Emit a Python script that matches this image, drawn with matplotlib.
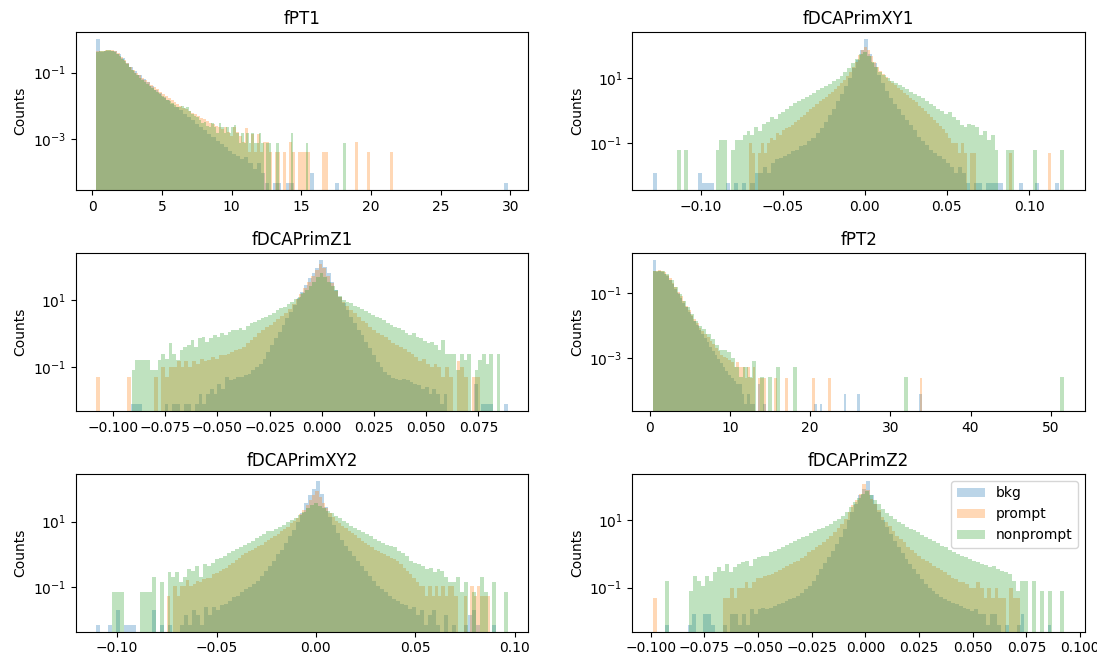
import numpy as np
import matplotlib
matplotlib.use("Agg")
import matplotlib.pyplot as plt
from matplotlib.ticker import NullLocator

# Per-bin histogram heights (density) as log10 values.
# None = empty bin. Every series has 100 bins over its own (lo, hi) range.
series_labels = ["bkg", "prompt", "nonprompt"]
titles = ["fPT1", "fDCAPrimXY1", "fDCAPrimZ1", "fPT2", "fDCAPrimXY2", "fDCAPrimZ2"]
pt_yticks = [1e-3, 1e-1]
dca_yticks = [1e-1, 1e1]
N = None

# ---- fPT1 ----
pt1_ranges = [(0.3, 29.8), (0.3, 21.6), (0.3, 18.2)]
pt1_bkg = [0.0, -0.37, -0.35, -0.34, -0.36, -0.45, -0.57, -0.70, -0.83, -0.96,
           -1.08, -1.19, -1.30, -1.41, -1.52, -1.63, -1.74, -1.84, -1.94, -2.04,
           -2.14, -2.24, -2.34, -2.44, -2.54, -2.64, -2.74, -2.84, -2.95, -3.05,
           -3.15, -3.25, -3.35, -3.45, -3.5, -3.6, -3.55, -3.73, -3.9, -3.73,
           -4.02, -4.32, N, -4.32, -4.32, N, -4.32, -4.32, N, N,
           N, N, -4.02, N, N, N, N, N, -4.32, N,
           N, N, N, N, N, N, N, N, N, N,
           N, N, N, N, N, N, N, N, N, N,
           N, N, N, N, N, N, N, N, N, N,
           N, N, N, N, N, N, N, N, N, -4.32]
pt1_prompt = [-0.36, -0.35, -0.34, -0.32, -0.31, -0.31, -0.34, -0.42, -0.52, -0.62,
              -0.72, -0.82, -0.92, -1.00, -1.08, -1.16, -1.23, -1.30, -1.37, -1.44,
              -1.51, -1.58, -1.65, -1.72, -1.78, -1.84, -1.90, -1.96, -2.01, -2.06,
              -2.11, -2.16, -2.21, -2.26, -2.31, -2.36, -2.41, -2.46, -2.51, -2.56,
              -2.60, -2.65, -2.70, -2.63, -2.78, -2.90, -2.63, -2.78, -2.90, -3.08,
              -2.67, -3.38, -2.85, -3.38, -2.85, -3.38, -3.08, -3.08, -3.38, N,
              -3.38, -3.38, N, -3.38, N, -3.08, -3.38, N, -3.38, -3.38,
              -3.38, -3.38, N, N, N, N, -3.38, -3.38, N, N,
              N, N, N, N, N, N, N, -3.08, N, N,
              N, -3.38, N, N, N, N, N, N, N, -3.38]
pt1_nonprompt = [-0.37, -0.36, -0.35, -0.34, -0.33, -0.33, -0.34, -0.37, -0.43, -0.50,
                 -0.58, -0.66, -0.75, -0.84, -0.93, -1.01, -1.08, -1.15, -1.22, -1.28,
                 -1.34, -1.40, -1.46, -1.52, -1.58, -1.64, -1.70, -1.76, -1.82, -1.87,
                 -1.93, -1.98, -2.03, -2.05, -2.02, -2.08, -2.03, -2.15, -2.25, -2.30,
                 -2.35, -2.43, -2.53, -2.50, -2.60, -2.65, -2.53, -2.65, -2.83, -2.53,
                 -2.65, -2.83, -2.65, -2.83, -2.65, -2.58, -2.83, -3.13, -2.83, -3.13,
                 -2.83, -3.13, -2.83, -3.13, -3.13, -2.83, -3.13, N, -3.13, -3.13,
                 N, N, -3.13, N, N, N, N, N, -2.83, N,
                 N, N, N, N, -3.13, N, N, N, N, N,
                 N, N, N, N, N, N, N, N, N, -3.13]

# ---- fDCAPrimXY1 ----
xy1_ranges = [(-0.129, 0.1185), (-0.0705, 0.1135), (-0.1145, 0.1215)]
xy1_bkg = [-1.92, N, N, N, N, N, N, N, N, N,
           N, -1.92, -2.22, -2.22, -2.22, N, N, N, -2.22, N,
           -2.22, N, -2.22, N, -2.22, -1.92, -1.92, -1.75, -1.92, -1.6,
           -1.5, -1.45, -1.4, -1.35, -1.25, -1.2, -1.1, -1.05, -0.95, -0.85,
           -0.7, -0.55, -0.35, -0.15, 0.05, 0.3, 0.5, 0.75, 1.0, 1.3,
           1.55, 1.85, 2.19, 1.75, 1.45, 1.1, 0.85, 0.6, 0.4, 0.2,
           0.05, -0.15, -0.3, -0.45, -0.6, -0.8, -0.95, -1.05, -1.2, -1.3,
           -1.4, -1.5, -1.6, -1.75, -1.92, -1.75, -1.92, -2.22, N, -2.22,
           -2.22, N, -2.22, -2.22, -2.22, -2.22, N, N, N, N,
           -2.22, N, N, N, -2.22, N, N, N, N, -2.22]
xy1_prompt = [-1.0, -1.31, N, -1.31, -1.0, -1.31, -1.0, -0.83, -0.9, -0.7,
              -0.75, -0.6, -0.55, -0.5, -0.45, -0.35, -0.3, -0.2, -0.15, -0.05,
              0.05, 0.12, 0.2, 0.28, 0.35, 0.42, 0.5, 0.58, 0.66, 0.75,
              0.85, 0.95, 1.05, 1.2, 1.35, 1.5, 1.7, 1.85, 1.96, 1.85,
              1.68, 1.5, 1.35, 1.22, 1.12, 1.02, 0.92, 0.85, 0.78, 0.7,
              0.62, 0.55, 0.47, 0.4, 0.32, 0.25, 0.15, 0.08, 0.0, -0.1,
              -0.2, -0.28, -0.38, -0.48, -0.58, -0.7, -0.83, -1.0, -1.0, -1.31,
              -1.0, -1.31, N, -1.31, -1.31, N, N, N, N, N,
              N, N, N, N, N, N, -1.31, N, N, N,
              N, N, N, N, N, N, N, N, N, -1.31]
xy1_nonprompt = [-1.22, N, -1.22, N, N, N, N, N, N, N,
                 -1.22, -0.92, -0.92, N, -1.22, -0.92, -0.92, -0.74, -0.62, -0.74,
                 -0.52, -0.62, -0.42, -0.35, -0.2, -0.25, -0.1, -0.05, 0.05, 0.15,
                 0.22, 0.3, 0.35, 0.42, 0.48, 0.55, 0.62, 0.7, 0.76, 0.82,
                 0.9, 0.98, 1.07, 1.17, 1.3, 1.45, 1.6, 1.75, 1.79, 1.68,
                 1.5, 1.35, 1.2, 1.08, 1.0, 0.92, 0.85, 0.78, 0.72, 0.65,
                 0.58, 0.52, 0.45, 0.38, 0.3, 0.2, 0.15, 0.05, 0.0, -0.1,
                 -0.05, -0.2, -0.3, -0.45, -0.52, -0.4, -0.45, -0.52, -0.74, -0.62,
                 -0.92, -0.74, -1.22, N, N, -1.22, -1.22, N, N, N,
                 N, N, -1.22, N, N, N, N, N, N, -1.22]

# ---- fDCAPrimZ1 ----
z1_ranges = [(-0.0915, 0.089), (-0.108, 0.0755), (-0.091, 0.0855)]
z1_bkg = [-2.1, -2.1, -2.1, N, N, N, N, N, N, -2.1,
          N, -2.1, -2.1, N, -2.1, -2.1, N, -2.1, -1.8, -2.1,
          -1.8, -1.65, -1.8, -1.5, -1.65, -1.3, -1.4, -1.35, -1.3, -1.3,
          -1.25, -1.2, -1.1, -1.0, -0.9, -0.75, -0.55, -0.35, -0.15, 0.05,
          0.25, 0.45, 0.65, 0.85, 1.05, 1.25, 1.45, 1.65, 1.8, 1.95,
          2.19, 2.0, 1.8, 1.55, 1.3, 1.1, 0.9, 0.7, 0.5, 0.3,
          0.1, -0.05, -0.25, -0.45, -0.65, -0.85, -1.0, -1.15, -1.25, -1.33,
          -1.35, -1.4, -1.35, -1.4, -1.45, -1.5, -1.55, -1.65, -1.6, -1.8,
          -1.65, -1.8, -2.1, -1.8, N, N, N, N, N, N,
          N, -1.5, N, -2.1, -2.1, -2.1, N, N, N, -2.1]
z1_prompt = [-1.31, N, N, N, N, N, N, N, -1.31, N,
             N, N, N, N, N, -1.31, N, -1.0, -1.31, -1.0,
             -1.0, -0.83, -1.0, -0.83, -1.0, -0.83, -0.9, -0.75, -0.83, -0.8,
             -0.7, -0.75, -0.65, -0.63, -0.6, -0.55, -0.5, -0.48, -0.4, -0.3,
             -0.2, -0.1, 0.0, 0.1, 0.18, 0.25, 0.33, 0.42, 0.52, 0.62,
             0.74, 0.88, 1.02, 1.18, 1.35, 1.55, 1.72, 1.9, 2.09, 1.95,
             1.72, 1.5, 1.28, 1.1, 0.95, 0.82, 0.7, 0.6, 0.48, 0.38,
             0.3, 0.2, 0.1, 0.0, -0.05, -0.12, -0.2, -0.28, -0.35, -0.42,
             -0.48, -0.55, -0.62, -0.7, -0.83, -0.75, -0.9, -1.0, -0.9, -1.0,
             -1.31, -1.0, -1.31, N, -0.83, -1.0, -1.31, N, -1.31, -1.31]
z1_nonprompt = [-1.1, -0.8, -0.8, -0.8, -0.8, -1.1, -1.1, -0.8, -0.62, -0.75,
                -0.3, -0.62, -0.8, -0.5, -0.4, -0.35, -0.2, -0.4, -0.15, -0.1,
                -0.25, -0.15, -0.05, -0.1, 0.0, -0.05, 0.05, 0.1, 0.1, 0.15,
                0.1, 0.22, 0.3, 0.35, 0.4, 0.45, 0.5, 0.55, 0.62, 0.7,
                0.75, 0.8, 0.88, 0.95, 1.02, 1.1, 1.2, 1.3, 1.42, 1.55,
                1.7, 1.8, 1.7, 1.55, 1.42, 1.3, 1.12, 1.0, 0.95, 0.9,
                0.82, 0.78, 0.72, 0.68, 0.62, 0.55, 0.5, 0.45, 0.4, 0.32,
                0.25, 0.2, 0.15, 0.1, 0.02, -0.05, 0.0, -0.1, -0.15, -0.22,
                -0.3, -0.25, -0.35, -0.5, -0.2, -0.62, -0.62, -0.62, -1.1, -0.62,
                -0.8, -0.62, N, -1.1, -0.8, -0.62, -0.9, -0.62, N, -0.62]

# ---- fPT2 ----
pt2_ranges = [(0.4, 33.9), (0.4, 34.0), (0.4, 51.7)]
pt2_bkg = [0.01, -0.35, -0.33, -0.34, -0.40, -0.48, -0.60, -0.73, -0.87, -1.01,
           -1.15, -1.29, -1.43, -1.57, -1.71, -1.85, -1.99, -2.12, -2.25, -2.38,
           -2.51, -2.64, -2.77, -2.90, -3.03, -3.15, -3.27, -3.38, -3.5, -3.6,
           -3.7, -3.8, -3.8, -4.09, -4.39, -4.09, -4.39, -4.39, N, -3.8,
           N, -4.39, N, N, N, N, N, N, N, N,
           N, N, N, N, N, N, N, N, N, N,
           -4.39, N, -4.39, N, N, N, N, N, N, N,
           N, -4.09, N, N, N, N, -4.09, N, N, N,
           N, N, N, N, N, N, N, N, N, N,
           N, N, N, N, N, N, N, N, N, -4.09]
pt2_prompt = [-0.33, -0.32, -0.30, -0.31, -0.36, -0.43, -0.55, -0.68, -0.82, -0.96,
              -1.10, -1.24, -1.38, -1.52, -1.66, -1.80, -1.93, -2.06, -2.16, -2.26,
              -2.36, -2.46, -2.57, -2.68, -2.79, -2.90, -2.95, -3.0, -3.05, -3.1,
              -3.28, -3.1, -3.28, -3.28, -3.6, -3.28, -3.6, -3.28, N, -3.6,
              -3.6, -3.6, N, N, N, -3.6, N, N, N, -3.6,
              N, N, N, N, N, N, N, N, N, -3.6,
              N, N, N, N, N, -3.6, N, N, N, N,
              N, N, N, N, N, N, N, N, N, N,
              N, N, N, N, N, N, N, N, N, N,
              N, N, N, N, N, N, N, N, N, -3.6]
pt2_nonprompt = [-0.33, -0.31, -0.31, -0.42, -0.60, -0.81, -1.02, -1.23, -1.44, -1.64,
                 -1.84, -2.02, -2.10, -2.25, -2.42, -2.60, -2.75, -2.75, -2.80, -3.0,
                 -3.26, -3.56, -3.26, -3.56, -3.08, N, -3.56, N, -3.56, N,
                 -3.26, N, N, N, -3.26, N, N, N, N, N,
                 N, N, N, N, N, N, N, N, N, N,
                 N, N, N, N, N, N, N, N, N, N,
                 N, -3.56, N, N, N, N, N, N, N, N,
                 N, N, N, N, N, N, N, N, N, N,
                 N, N, N, N, N, N, N, N, N, N,
                 N, N, N, N, N, N, N, N, N, -3.56]

# ---- fDCAPrimXY2 ----
xy2_ranges = [(-0.1105, 0.0905), (-0.075, 0.0875), (-0.1025, 0.0965)]
xy2_bkg = [-2.13, N, N, -2.13, N, -1.7, N, -2.13, -2.13, -2.13,
           N, N, N, N, -1.7, N, -2.13, N, -2.13, N,
           N, -2.13, -1.83, -2.13, -1.7, -1.83, -2.13, -1.6, -1.83, -1.6,
           -1.7, -1.55, -1.5, -1.4, -1.3, -1.25, -1.15, -1.05, -1.0, -0.9,
           -0.8, -0.65, -0.5, -0.35, -0.2, 0.0, 0.15, 0.35, 0.55, 0.75,
           1.0, 1.25, 1.55, 1.8, 2.0, 2.23, 1.85, 1.45, 1.15, 0.9,
           0.65, 0.45, 0.25, 0.1, -0.05, -0.2, -0.35, -0.5, -0.65, -0.8,
           -0.95, -1.05, -1.15, -1.25, -1.35, -1.4, -1.5, -1.55, -1.65, -1.6,
           -1.83, -1.7, -2.13, -1.83, -1.7, -2.13, N, -1.83, N, -2.13,
           N, N, -2.13, -1.83, -1.7, -2.13, N, N, N, -2.13]
xy2_prompt = [-1.26, N, -0.96, -1.26, -0.96, -0.96, -0.79, -0.96, -0.9, -0.8,
              -0.85, -0.75, -0.7, -0.72, -0.6, -0.55, -0.5, -0.45, -0.4, -0.33,
              -0.25, -0.18, -0.1, -0.02, 0.05, 0.1, 0.15, 0.2, 0.25, 0.3,
              0.38, 0.45, 0.5, 0.56, 0.63, 0.7, 0.78, 0.85, 0.95, 1.03,
              1.12, 1.22, 1.35, 1.5, 1.65, 1.82, 1.93, 1.75, 1.55, 1.4,
              1.25, 1.13, 1.03, 0.95, 0.88, 0.8, 0.72, 0.65, 0.58, 0.5,
              0.42, 0.35, 0.28, 0.22, 0.15, 0.1, 0.05, 0.0, -0.05, -0.1,
              -0.15, -0.2, -0.3, -0.4, -0.5, -0.6, -0.7, -0.85, -0.96, -0.96,
              -1.26, -0.96, -1.26, -0.96, -1.26, -0.96, -1.26, -0.96, -0.96, -1.26,
              N, N, -1.26, N, -0.96, -1.26, -0.96, -1.26, -1.26, -1.26]
xy2_nonprompt = [-1.14, -1.14, -1.14, N, N, N, N, -1.14, -1.14, -1.14,
                 -0.67, N, -0.84, N, -0.54, -0.67, -0.54, -0.84, -0.67, -0.45,
                 -0.5, -0.35, -0.67, -0.3, -0.35, -0.25, -0.15, -0.1, -0.05, 0.05,
                 0.1, 0.18, 0.22, 0.3, 0.35, 0.42, 0.5, 0.55, 0.62, 0.7,
                 0.72, 0.78, 0.85, 0.9, 0.98, 1.05, 1.12, 1.2, 1.3, 1.4,
                 1.5, 1.56, 1.48, 1.4, 1.32, 1.25, 1.18, 1.1, 1.02, 0.95,
                 0.88, 0.82, 0.75, 0.68, 0.62, 0.55, 0.48, 0.42, 0.35, 0.3,
                 0.25, 0.22, 0.12, 0.05, -0.05, -0.2, -0.25, -0.3, -0.35, -0.45,
                 -0.4, -0.54, -0.45, -0.5, -0.67, -0.84, -0.84, -0.67, -1.14, -0.84,
                 N, -1.14, N, -0.67, -1.14, N, -0.84, N, N, -1.14]

# ---- fDCAPrimZ2 ----
z2_ranges = [(-0.0935, 0.0867), (-0.099, 0.0722), (-0.0935, 0.0927)]
z2_bkg = [-2.1, N, N, N, N, N, -2.1, -1.8, N, N,
          -1.8, -1.8, -2.1, N, N, -2.1, N, -1.8, -1.8, -2.1,
          -1.8, -2.1, -1.65, -1.8, -1.65, -1.6, -1.65, -1.6, -1.55, -1.5,
          -1.45, -1.4, -1.35, -1.3, -1.25, -1.15, -1.05, -0.95, -0.8, -0.62,
          -0.45, -0.27, -0.08, 0.1, 0.3, 0.5, 0.75, 1.0, 1.25, 1.5,
          1.75, 1.95, 2.17, 1.75, 1.5, 1.25, 1.0, 0.8, 0.6, 0.4,
          0.2, 0.02, -0.15, -0.3, -0.45, -0.6, -0.75, -0.9, -1.0, -1.1,
          -1.2, -1.28, -1.33, -1.4, -1.45, -1.5, -1.55, -1.6, -1.65, -1.7,
          -1.65, -1.8, -1.8, -2.1, -1.8, -1.8, -2.1, N, -2.1, N,
          N, -2.1, -1.8, N, N, N, N, N, N, -2.1]
z2_prompt = [-1.3, N, N, N, N, N, N, N, N, N,
             N, N, N, N, N, N, N, N, N, -1.3,
             -1.3, -1.0, -1.3, -1.0, -1.0, -0.83, -1.0, -0.83, -0.7, -0.7,
             -0.65, -0.62, -0.6, -0.55, -0.48, -0.42, -0.36, -0.3, -0.25, -0.2,
             -0.12, -0.05, 0.05, 0.12, 0.2, 0.28, 0.36, 0.44, 0.55, 0.65,
             0.78, 0.9, 1.05, 1.25, 1.45, 1.6, 1.8, 2.07, 1.9, 1.65,
             1.48, 1.32, 1.1, 0.95, 0.82, 0.68, 0.55, 0.45, 0.35, 0.22,
             0.12, 0.02, -0.07, -0.15, -0.22, -0.28, -0.35, -0.42, -0.48, -0.55,
             -0.62, -0.7, -0.75, -0.83, -0.83, -0.9, -1.0, -1.0, -0.83, -1.0,
             -1.3, -1.0, -1.3, -1.0, -1.3, -1.3, N, -1.0, -1.3, -1.3]
z2_nonprompt = [-0.81, N, N, N, N, N, -1.11, -0.65, -0.81, -0.95,
                -0.65, -0.81, -0.55, -0.4, -0.5, -0.3, -0.55, -0.4, -0.3, -0.25,
                -0.2, -0.35, -0.15, -0.1, -0.05, -0.05, 0.05, 0.1, 0.15, 0.2,
                0.28, 0.33, 0.38, 0.45, 0.5, 0.55, 0.62, 0.68, 0.74, 0.78,
                0.83, 0.9, 0.98, 1.05, 1.13, 1.25, 1.4, 1.55, 1.68, 1.8,
                1.87, 1.75, 1.6, 1.48, 1.35, 1.22, 1.12, 1.05, 0.95, 0.88,
                0.8, 0.75, 0.7, 0.65, 0.58, 0.52, 0.45, 0.4, 0.32, 0.25,
                0.2, 0.12, 0.05, 0.0, -0.05, -0.1, -0.15, -0.2, -0.25, -0.3,
                -0.33, -0.4, -0.35, -0.45, -0.5, -0.55, -0.6, -0.81, -1.11, -0.81,
                -0.81, N, -0.81, N, -1.11, N, -1.11, N, N, -1.11]

panels = [
    (pt1_ranges, [pt1_bkg, pt1_prompt, pt1_nonprompt], pt_yticks),
    (xy1_ranges, [xy1_bkg, xy1_prompt, xy1_nonprompt], dca_yticks),
    (z1_ranges, [z1_bkg, z1_prompt, z1_nonprompt], dca_yticks),
    (pt2_ranges, [pt2_bkg, pt2_prompt, pt2_nonprompt], pt_yticks),
    (xy2_ranges, [xy2_bkg, xy2_prompt, xy2_nonprompt], dca_yticks),
    (z2_ranges, [z2_bkg, z2_prompt, z2_nonprompt], dca_yticks),
]


def draw_hist(ax, lo, hi, log_heights, label):
    edges = np.linspace(lo, hi, len(log_heights) + 1)
    centers = 0.5 * (edges[:-1] + edges[1:])
    heights = [10 ** v if v is not None else 0.0 for v in log_heights]
    ax.hist(centers, bins=edges, weights=heights, alpha=0.3, log=True, label=label)


fig, axes = plt.subplots(3, 2, figsize=(10.97, 6.56), dpi=100)

for ax, title, (ranges, data, yticks) in zip(axes.flat, titles, panels):
    for (lo, hi), vals, lab in zip(ranges, data, series_labels):
        draw_hist(ax, lo, hi, vals, lab)
    ax.set_title(title)
    ax.set_ylabel("Counts")
    ax.set_yticks(yticks)
    ax.yaxis.set_minor_locator(NullLocator())

axes.flat[-1].legend(loc="upper right")

fig.subplots_adjust(left=0.069, right=0.989, bottom=0.037, top=0.951,
                    wspace=0.23, hspace=0.40)
plt.savefig("out.png", dpi=100)
